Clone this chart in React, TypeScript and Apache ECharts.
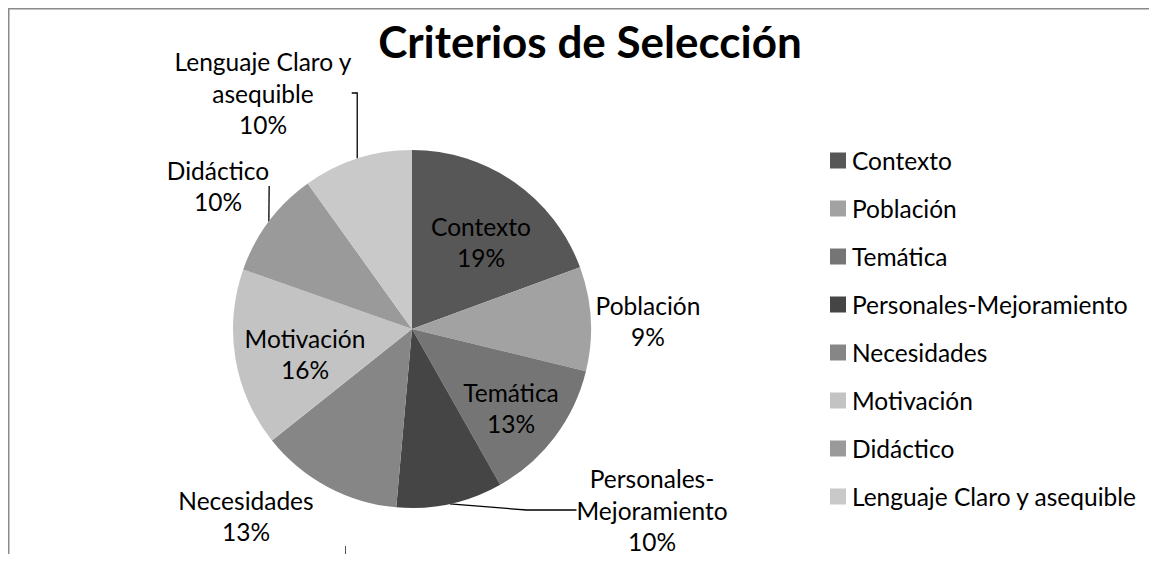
import React, { useEffect, useRef } from "react";
import * as echarts from "echarts";

const categories = [
  "Contexto",
  "Población",
  "Temática",
  "Personales-Mejoramiento",
  "Necesidades",
  "Motivación",
  "Didáctico",
  "Lenguaje Claro y asequible",
];
const values = [19.4, 9.4, 13.0, 9.6, 12.9, 16.1, 9.7, 9.9];
const labelTexts = [
  "Contexto",
  "Población",
  "Temática",
  "Personales-\nMejoramiento",
  "Necesidades",
  "Motivación",
  "Didáctico",
  "Lenguaje Claro y\nasequible",
];
const sliceColors = ["#575757", "#a2a2a2", "#757575", "#454545", "#868686", "#c3c3c3", "#9a9a9a", "#c9c9c9"];
const insideNames = ["Contexto", "Temática", "Motivación"];
const noLineNames = ["Población", "Necesidades"];

// label block centres (chart coordinates)
const LABEL_POS: number[][] = [
  [473, 234],
  [640, 313],
  [503, 400],
  [644, 502],
  [238, 508],
  [297, 346],
  [210, 178],
  [255, 85],
];
const LINE_LEN2 = [0, 0, 0, 50, 0, 0, 10, 12];

const FONT = "Lato, 'Open Sans', sans-serif";
const FS = 24.5;

export default function App() {
  const ref = useRef<HTMLDivElement>(null);
  useEffect(() => {
    if (!ref.current) return;
    const chart = echarts.init(ref.current, undefined, { renderer: "svg" });
    const data = categories.map((name, i) => {
      const inside = insideNames.includes(name);
      return {
        name,
        value: values[i],
        itemStyle: { color: sliceColors[i] },
        label: { position: inside ? "inside" : "outside" },
        labelLine: {
          show: !inside && !noLineNames.includes(name),
          length: 10,
          length2: LINE_LEN2[i],
        },
      };
    });
    chart.setOption({
      animation: false,
      backgroundColor: "#ffffff",
      title: {
        text: "Criterios de Selección",
        left: 577,
        top: 6,
        textAlign: "center",
        textStyle: { fontFamily: FONT, fontSize: 44, fontWeight: "bold", color: "#000" },
      },
      legend: {
        orient: "vertical",
        left: 817,
        top: 135,
        itemWidth: 16,
        itemHeight: 16,
        itemGap: 23,
        icon: "rect",
        textStyle: { fontFamily: FONT, fontSize: FS, color: "#000", padding: [0, 0, 0, 1] },
        data: categories,
      },
      graphic: [
        {
          type: "rect",
          shape: { x: 0.75, y: 0.75, width: 1145, height: 700 },
          style: { fill: "none", stroke: "#8a8a8a", lineWidth: 1.5 },
          silent: true,
        },
        {
          type: "line",
          shape: { x1: 337.5, y1: 538, x2: 337.5, y2: 560 },
          style: { stroke: "#555", lineWidth: 1 },
          silent: true,
        },
      ],
      series: [
        {
          type: "pie",
          center: [404, 321],
          radius: 179,
          startAngle: 90,
          clockwise: true,
          avoidLabelOverlap: false,
          data,
          label: {
            fontFamily: FONT,
            fontSize: FS,
            lineHeight: 31.5,
            color: "#000",
            align: "center",
            formatter: (p: any) => `${labelTexts[p.dataIndex]}\n${Math.round(p.percent)}%`,
          },
          labelLine: { lineStyle: { color: "#000", width: 1.3 } },
          labelLayout: (p: any) => {
            const pos = LABEL_POS[p.dataIndex];
            return { x: pos[0], y: pos[1], align: "center", verticalAlign: "middle" };
          },
          emphasis: { disabled: true },
        },
      ],
    });
    return () => chart.dispose();
  }, []);
  return <div ref={ref} style={{ width: 1149, height: 554, marginBottom: -8 }} />;
}
